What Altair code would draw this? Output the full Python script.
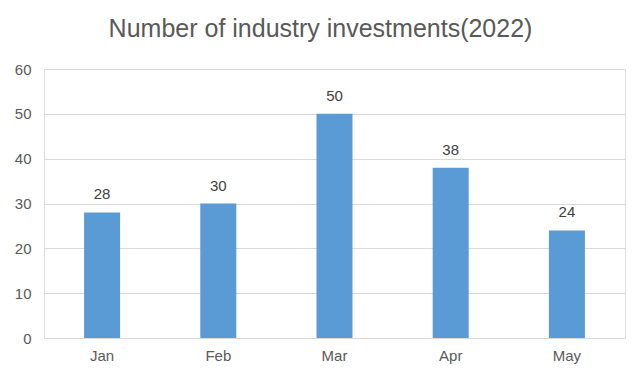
import altair as alt
import pandas as pd

months = ["Jan", "Feb", "Mar", "Apr", "May"]
investments = [28, 30, 50, 38, 24]

df = pd.DataFrame({"month": months, "value": investments})

base = alt.Chart(df).encode(
    x=alt.X("month:N", sort=months, title=None,
            scale=alt.Scale(paddingInner=0.69, paddingOuter=0.345),
            axis=alt.Axis(labelAngle=0, ticks=False, domain=False, labelPadding=10,
                          labelFontSize=15, labelColor="#595959", labelFont="Liberation Sans")),
    y=alt.Y("value:Q", title=None,
            scale=alt.Scale(domain=[0, 60]),
            axis=alt.Axis(values=[0, 10, 20, 30, 40, 50, 60], ticks=False, domain=False,
                          labelPadding=13, gridColor="#d9d9d9", gridWidth=1,
                          labelFontSize=15, labelColor="#595959", labelFont="Liberation Sans")),
)

bars = base.mark_bar(color="#5B9BD5")
labels = base.mark_text(baseline="bottom", dy=-10, fontSize=15, color="#404040",
                        font="Liberation Sans").encode(text="value:Q")

chart = (bars + labels).properties(
    width=581, height=269,
    title=alt.TitleParams("Number of industry investments(2022)", fontSize=25,
                          font="Liberation Sans", fontWeight="normal", color="#595959",
                          anchor="middle", offset=20, dx=-14),
    autosize=alt.AutoSizeParams(type="none"),
    padding={"left": 36, "top": 61, "right": 7, "bottom": 36},
).configure_view(stroke=None).configure(background="white")

chart.save("out.html", embed_options={"renderer": "svg", "actions": False})
